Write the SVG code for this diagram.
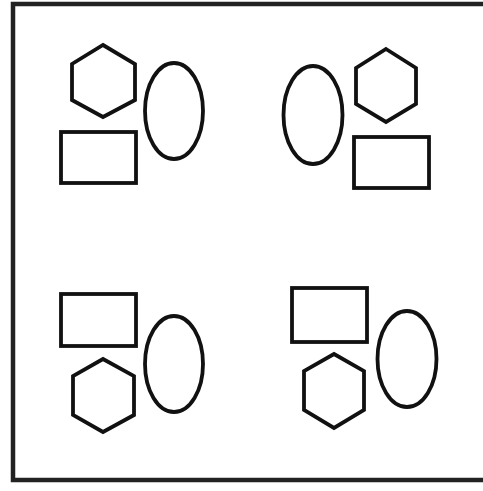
<svg xmlns="http://www.w3.org/2000/svg" width="483" height="491" viewBox="0 0 483 491">
<style>
.s{fill:none;stroke:#111;stroke-width:3.8;stroke-linejoin:miter}
.f{fill:none;stroke:#222;stroke-width:4.5}
</style>
<rect width="483" height="491" fill="#fff"/>
<rect id="frame" class="f" x="13" y="4" width="480" height="476"/>
<g id="group-top-left">
<g id="tl-hexagon"><polygon class="s" points="103,45 135,64 135,100 103,117 72,100 72,64"/></g>
<g id="tl-rect"><rect class="s" x="61" y="132" width="75" height="51"/></g>
<g id="tl-ellipse"><ellipse class="s" cx="174" cy="111" rx="29" ry="48"/></g>
</g>
<g id="group-top-right">
<g id="tr-ellipse"><ellipse class="s" cx="313" cy="115" rx="29.5" ry="49"/></g>
<g id="tr-hexagon"><polygon class="s" points="386,49 416,68 416,104 386,122 356,104 356,68"/></g>
<g id="tr-rect"><rect class="s" x="354" y="137" width="75" height="51"/></g>
</g>
<g id="group-bottom-left">
<g id="bl-rect"><rect class="s" x="61" y="294" width="75" height="52"/></g>
<g id="bl-ellipse"><ellipse class="s" cx="174" cy="364" rx="29" ry="48"/></g>
<g id="bl-hexagon"><polygon class="s" points="103,359 134,376 134,415 103,432 73,415 73,376"/></g>
</g>
<g id="group-bottom-right">
<g id="br-rect"><rect class="s" x="292" y="288" width="75" height="54"/></g>
<g id="br-ellipse"><ellipse class="s" cx="407" cy="359" rx="29.5" ry="48"/></g>
<g id="br-hexagon"><polygon class="s" points="334,354 364,371 364,410 334,428 304,410 304,371"/></g>
</g>
<g id="connectors"/>
</svg>
